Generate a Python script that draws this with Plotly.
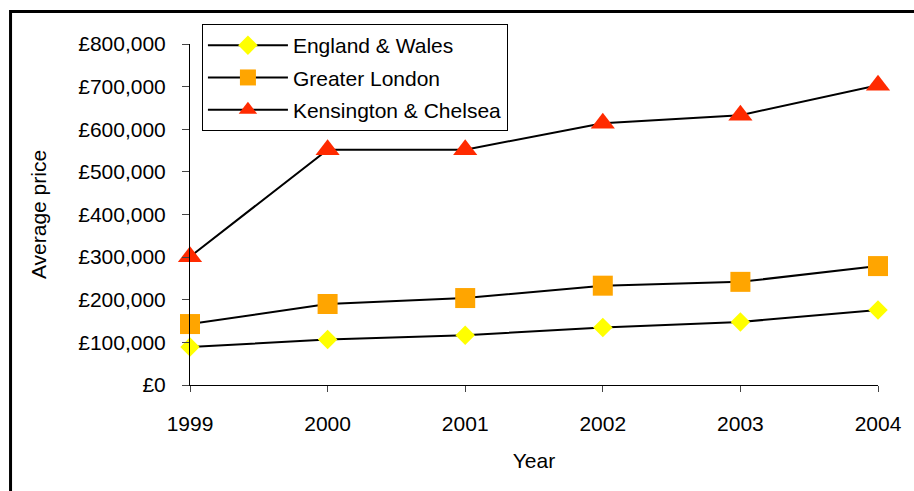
import plotly.graph_objects as go

# Average house prices by year
years = [1999, 2000, 2001, 2002, 2003, 2004]
england_wales = [89000, 107000, 117000, 135000, 148000, 176000]
greater_london = [143000, 190000, 204000, 233000, 242000, 279000]
kensington_chelsea = [301000, 552000, 552000, 614000, 633000, 703000]

y_tick_values = [0, 100000, 200000, 300000, 400000, 500000, 600000, 700000, 800000]
y_tick_labels = ["£0", "£100,000", "£200,000", "£300,000", "£400,000",
                 "£500,000", "£600,000", "£700,000", "£800,000"]

FONT = "Liberation Sans, Arial, sans-serif"

series = [
    ("England & Wales", england_wales, "diamond", "#FFFF00", 15),
    ("Greater London", greater_london, "square", "#FFA500", 20),
    ("Kensington & Chelsea", kensington_chelsea, "triangle-up", "#FF2A00", 21),
]

fig = go.Figure()
for i, (name, values, symbol, colour, size) in enumerate(series):
    fig.add_trace(go.Scatter(
        x=years, y=values, name=name, mode="lines+markers",
        line=dict(color="black", width=2),
        marker=dict(symbol=symbol, color=colour, size=size, line=dict(width=0)),
        cliponaxis=False, legendgroup=f"g{i}",
    ))

# Plot area in pixels: left 190, right 882, top 44, bottom 385
L, R, T, B = 190, 32, 44, 106
W, H = 914, 491
pw, ph = W - L - R, H - T - B


def px_x(p):
    return (p - L) / pw


def px_y(p):
    return (H - B - p) / ph


fig.update_layout(
    width=W, height=H,
    margin=dict(l=L, r=R, t=T, b=B),
    paper_bgcolor="white", plot_bgcolor="white",
    font=dict(family=FONT, size=21, color="black"),
    showlegend=True,
    legend=dict(
        x=px_x(202), y=px_y(24), xanchor="left", yanchor="top",
        bgcolor="white", bordercolor="black", borderwidth=1,
        font=dict(family=FONT, size=21, color="black"),
        tracegroupgap=2, itemwidth=80,
    ),
    xaxis=dict(
        range=[1999, 2004], tickvals=years, ticktext=[str(y) for y in years],
        showgrid=False, zeroline=False, showline=True, linecolor="black", linewidth=1,
        ticks="outside", ticklen=6, tickcolor="#444444", tickwidth=1,
        ticklabelstandoff=14,
        title=dict(text="Year", font=dict(family=FONT, size=21), standoff=19),
        fixedrange=True,
    ),
    yaxis=dict(
        range=[0, 800000], tickvals=y_tick_values, ticktext=y_tick_labels,
        showgrid=False, zeroline=False, showline=True, linecolor="black", linewidth=1,
        ticks="outside", ticklen=7, tickcolor="#444444", tickwidth=1,
        ticklabelstandoff=12,
        title=dict(text="Average price", font=dict(family=FONT, size=21), standoff=25),
        fixedrange=True,
    ),
    shapes=[
        # outer frame: top and left edges
        dict(type="line", xref="paper", yref="paper",
             x0=px_x(9.5), x1=px_x(920), y0=px_y(11.5), y1=px_y(11.5),
             line=dict(color="black", width=3)),
        dict(type="line", xref="paper", yref="paper",
             x0=px_x(9.5), x1=px_x(9.5), y0=px_y(10), y1=px_y(500),
             line=dict(color="black", width=3)),
    ],
)

fig.write_html("out.html")
